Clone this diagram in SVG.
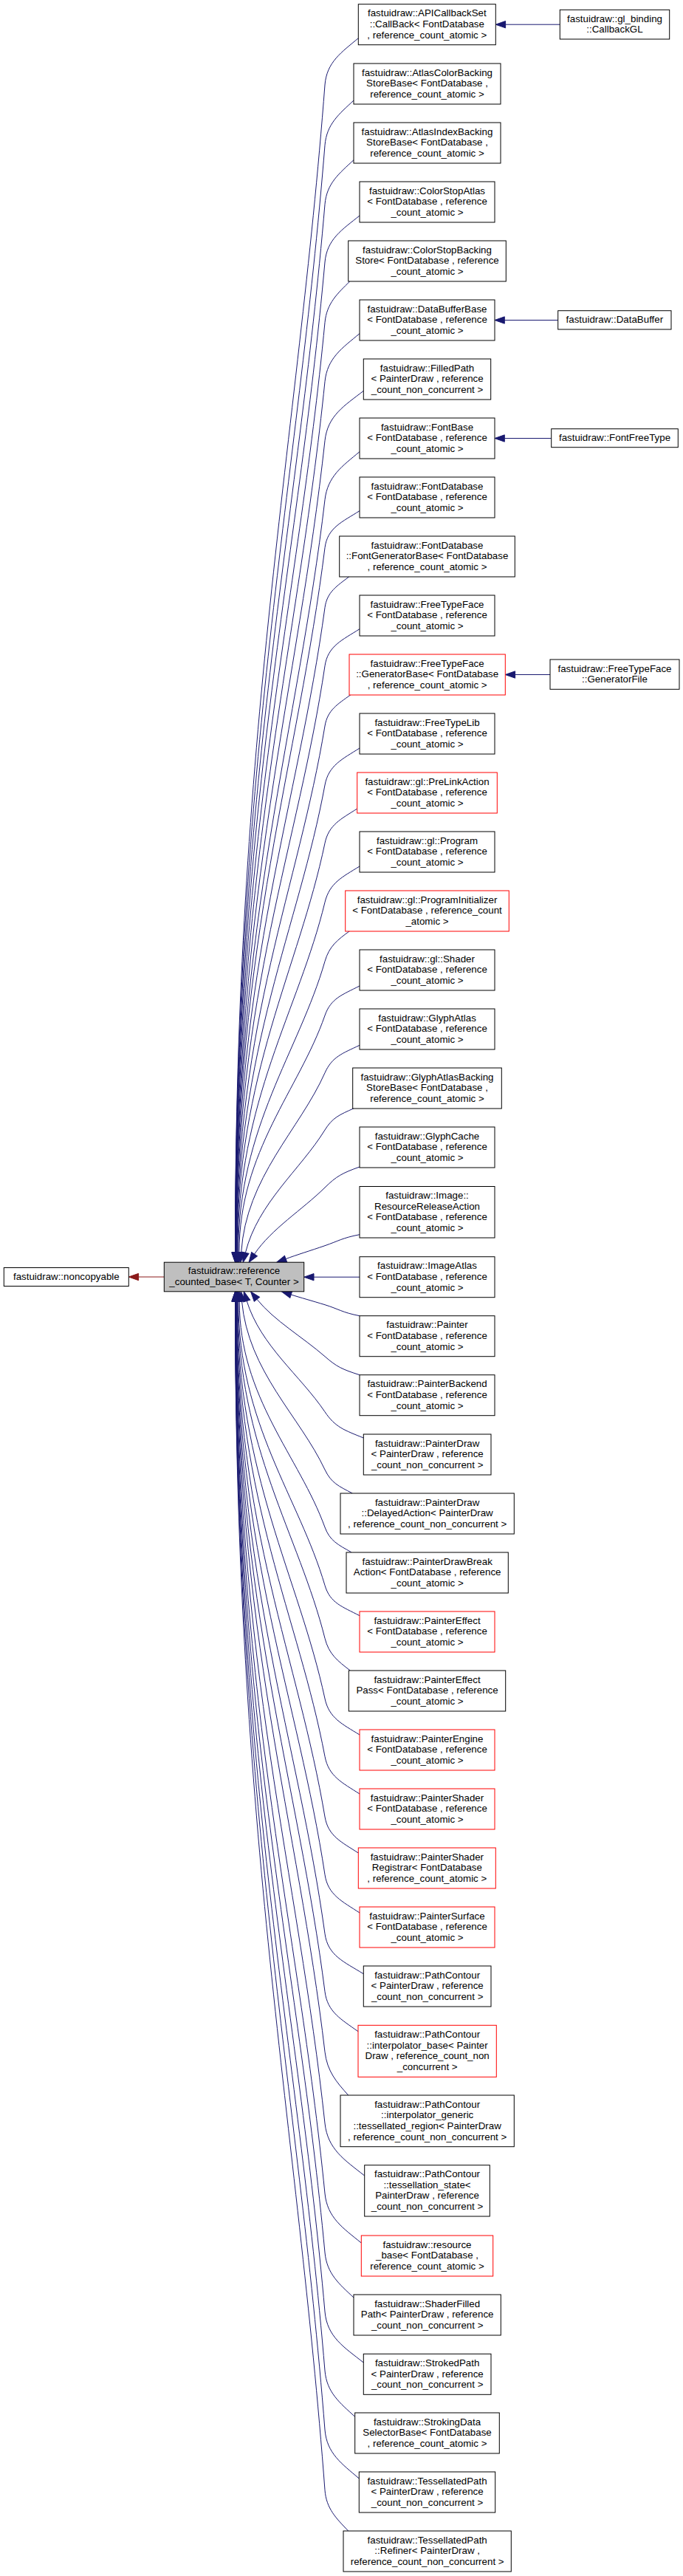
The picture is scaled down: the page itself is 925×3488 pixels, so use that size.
<svg xmlns="http://www.w3.org/2000/svg" width="925" height="3488" viewBox="0 0 925 3488">
<style>
text{font-family:"Liberation Sans",Arial,Helvetica,sans-serif;font-size:13.33px;text-anchor:middle;fill:#000}
.n rect{fill:#fff;stroke:#000;stroke-width:1}
.r rect{stroke:#f00}
.c rect{fill:#bfbfbf}
.e path{fill:none;stroke:#191970;stroke-width:1;marker-start:url(#ah)}
.e path.p{stroke:#8b1a1a;marker-start:url(#ahr)}
</style>
<defs>
<marker id="ah" markerUnits="userSpaceOnUse" viewBox="0 0 14 10" refX="0" refY="5" markerWidth="14" markerHeight="10" orient="auto-start-reverse" overflow="visible"><path d="M0,0.33 L13.3,5 L0,9.67 Z" fill="#191970" stroke="#191970" stroke-width="1"/></marker>
<marker id="ahr" markerUnits="userSpaceOnUse" viewBox="0 0 14 10" refX="0" refY="5" markerWidth="14" markerHeight="10" orient="auto-start-reverse" overflow="visible"><path d="M0,0.33 L13.3,5 L0,9.67 Z" fill="#8b1a1a" stroke="#8b1a1a" stroke-width="1"/></marker>
</defs>
<rect width="925" height="3488" fill="#fff"/>
<g id="edges" class="e">
<path class="p" d="M187.6,1729 L222.3,1729"/>
<path d="M684.6,33.2 L758.3,33.2"/>
<path d="M683.3,433.5 L755.7,433.5"/>
<path d="M683.3,593.5 L746.7,593.5"/>
<path d="M697.6,913.5 L745,913.5"/>
<path d="M318.5,1695.9 C318.5,991.8 403.5,593.2 440,115 C442.4,84 462.7,70.7 485.3,51.7"/>
<path d="M318.6,1695.9 C318.6,1028.6 403.6,650.4 440,196.7 C442.3,167.9 459.5,154.2 479,136"/>
<path d="M318.7,1695.9 C318.7,1064.6 403.6,706.4 440,276.7 C442.4,248.2 459.5,234.7 479,216.7"/>
<path d="M318.8,1695.9 C318.8,1099.8 403.6,761.3 440,355 C442.8,323.7 463.5,310.9 487,292"/>
<path d="M318.9,1695.9 C318.9,1136.6 403.6,818.5 440,436.7 C442.5,410.6 457,397.5 474,380.7"/>
<path d="M319,1695.9 C319,1172.6 403.7,874.5 440,516.7 C443.2,484.8 463.5,471.2 487,451.7"/>
<path d="M319.2,1695.9 C319.2,1208.6 403.7,930.5 440,596.7 C443.7,562.8 466.2,549.5 492.3,529.3"/>
<path d="M319.3,1695.9 C319.3,1244.6 403.8,986.5 440,676.7 C443.7,644.8 463.5,631.2 487,611.7"/>
<path d="M319.5,1695.9 C319.5,1273.8 403.8,1032 440,741.7 C443.4,714.5 463.5,706.7 487,691.7"/>
<path d="M319.7,1695.9 C319.7,1310.3 403.9,1088.7 440,822.7 C442.9,801.5 456.5,793.3 473,780.7"/>
<path d="M319.9,1695.9 C319.9,1345.8 404,1143.9 440,901.7 C444,874.6 463.5,866.7 487,851.7"/>
<path d="M320.3,1695.9 C320.3,1382.4 404.1,1200.9 440,983 C443.6,961.3 457.5,953.4 475,940.7"/>
<path d="M320.7,1695.9 C320.7,1418.4 404.2,1256.8 440,1063 C445,1036.1 463.5,1028 487,1013"/>
<path d="M321.1,1695.9 C321.1,1453.8 404.3,1311.9 440,1141.7 C445.2,1116.6 461.9,1109 483.7,1095"/>
<path d="M321.8,1695.9 C321.8,1489.8 404.5,1368 440,1221.7 C446.4,1195.4 463.5,1187.6 487,1173"/>
<path d="M322.7,1695.9 C322.7,1525.8 404.8,1423.9 440,1301.7 C445.9,1281.1 457,1272.7 474,1260.3"/>
<path d="M323.9,1695.9 C323.9,1558.8 405.2,1475.2 440,1375 C448.1,1351.7 463.5,1347 487,1335"/>
<path d="M326.7,1695.9 C333.3,1593.8 405.8,1529.6 440,1452.7 C449.8,1430.8 463.5,1426.5 487,1415.3"/>
<path d="M332.4,1696.3 C349.3,1628.6 406.8,1583.8 440,1530 C450.3,1513.3 459.7,1509.5 479.3,1500.7"/>
<path d="M344.5,1698.2 C367.8,1663.7 409.1,1638.4 440,1608 C455.6,1592.6 463.5,1588.4 487,1580"/>
<path d="M387.1,1704.6 C401.8,1699.1 420.3,1693.5 440,1686.7 C458.6,1680.3 463.5,1676.2 487,1671.7"/>
<path d="M425,1729.2 L487,1729.2"/>
<path d="M394.2,1753 C406.3,1756.9 422.5,1761.3 440,1766.7 C458.8,1772.5 463.5,1777.2 487,1781.7"/>
<path d="M347.9,1759.2 C371.5,1788.4 409.9,1810.4 440,1836.7 C456,1850.7 463.5,1854.2 487,1861.7"/>
<path d="M334.2,1761.5 C352.9,1822.1 407.1,1862.8 440,1911.7 C454.1,1932.6 466.2,1936.4 492.3,1947"/>
<path d="M327.5,1762 C336.3,1857.3 405.9,1917.6 440,1990 C448.4,2007.8 458.7,2012.4 477.3,2022"/>
<path d="M324.2,1762.1 C324.2,1892.4 405.2,1972.2 440,2068 C446.7,2086.4 457.9,2091.6 475.7,2101.7"/>
<path d="M322.8,1762.1 C322.8,1927.9 404.9,2027.4 440,2146.7 C447.1,2170.7 463.5,2175.4 487,2187.7"/>
<path d="M322,1762.1 C322,1960.1 404.6,2077.5 440,2218.3 C445.4,2239.8 457.2,2248.9 474.3,2262"/>
<path d="M321.3,1762.1 C321.3,1996.8 404.4,2134.7 440,2300 C445.7,2326.6 463.5,2334.3 487,2349"/>
<path d="M320.8,1762.1 C320.8,2032.1 404.2,2189.5 440,2378.3 C445.1,2405.4 463.5,2413.8 487,2429"/>
<path d="M320.3,1762.1 C320.3,2068.8 404.1,2246.6 440,2460 C444.4,2486.3 462.7,2494.3 485.3,2509"/>
<path d="M320,1762.1 C320,2104.1 404,2301.4 440,2538.3 C444.2,2566 463.5,2574.5 487,2590"/>
<path d="M319.7,1762.1 C319.7,2140.1 403.9,2357.5 440,2618.3 C444.1,2648.2 466.2,2656.4 492.3,2672.7"/>
<path d="M319.5,1762.1 C319.5,2175.4 403.8,2412.3 440,2696.7 C443.5,2724.6 462.5,2734.5 485,2750.7"/>
<path d="M319.3,1762.1 C319.3,2212.1 403.8,2469.4 440,2778.3 C443.1,2804.8 455.9,2819.4 471.7,2837"/>
<path d="M319.1,1762.1 C319.1,2255.6 403.7,2537.1 440,2875 C443.8,2910.4 466.9,2924.7 493.7,2946"/>
<path d="M319,1762.1 C319,2298.3 403.7,2603.6 440,2970 C443.3,3003.1 464.7,3016.9 489.3,3037"/>
<path d="M318.8,1762.1 C318.8,2334.3 403.7,2659.7 440,3050 C442.7,3078.9 459.5,3092.7 479,3111"/>
<path d="M318.7,1762.1 C318.7,2370.3 403.6,2715.6 440,3130 C443,3164.5 466.2,3178.3 492.3,3199"/>
<path d="M318.6,1762.1 C318.6,2406.3 403.6,2771.6 440,3210 C442.5,3239.7 460.4,3253.6 480.7,3272.3"/>
<path d="M318.6,1762.1 C318.6,2442.3 403.5,2827.6 440,3290 C442.5,3322.1 463.2,3336.2 486.3,3356"/>
<path d="M318.5,1762.1 C318.5,2479.1 403.5,2884.9 440,3371.7 C441.9,3397.1 455.9,3410.4 471.7,3427"/>
</g>
<g id="noncopyable" class="n" transform="translate(89.8,1729)"><rect x="-84.5" y="-12.5" width="169" height="25"/><text y="4">fastuidraw::noncopyable</text></g>
<g id="reference_counted_base" class="n c" transform="translate(317,1729)"><rect x="-94.7" y="-19.8" width="189.4" height="39.6"/><text y="-3.6">fastuidraw::reference</text><text y="11">_counted_base&lt; T, Counter &gt;</text></g>
<g id="APICallbackSet_CallBack" class="n" transform="translate(578.3,33.2)"><rect x="-93" y="-27.5" width="186" height="55"/><text y="-11">fastuidraw::APICallbackSet</text><text y="3.7">::CallBack&lt; FontDatabase</text><text y="18.4">, reference_count_atomic &gt;</text></g>
<g id="gl_binding_CallbackGL" class="n" transform="translate(832.5,33.15)"><rect x="-74.2" y="-19.85" width="148.4" height="39.7"/><text y="-3.6">fastuidraw::gl_binding</text><text y="11">::CallbackGL</text></g>
<g id="AtlasColorBackingStoreBase" class="n" transform="translate(578.5,113.5)"><rect x="-99.5" y="-27.5" width="199" height="55"/><text y="-11">fastuidraw::AtlasColorBacking</text><text y="3.7">StoreBase&lt; FontDatabase ,</text><text y="18.4">reference_count_atomic &gt;</text></g>
<g id="AtlasIndexBackingStoreBase" class="n" transform="translate(578.5,193.5)"><rect x="-99.5" y="-27.5" width="199" height="55"/><text y="-11">fastuidraw::AtlasIndexBacking</text><text y="3.7">StoreBase&lt; FontDatabase ,</text><text y="18.4">reference_count_atomic &gt;</text></g>
<g id="ColorStopAtlas" class="n" transform="translate(578.5,273.5)"><rect x="-91.5" y="-27.5" width="183" height="55"/><text y="-11">fastuidraw::ColorStopAtlas</text><text y="3.7">&lt; FontDatabase , reference</text><text y="18.4">_count_atomic &gt;</text></g>
<g id="ColorStopBackingStore" class="n" transform="translate(578.5,353.5)"><rect x="-106.8" y="-27.5" width="213.6" height="55"/><text y="-11">fastuidraw::ColorStopBacking</text><text y="3.7">Store&lt; FontDatabase , reference</text><text y="18.4">_count_atomic &gt;</text></g>
<g id="DataBufferBase" class="n" transform="translate(578.5,433.5)"><rect x="-91.5" y="-27.5" width="183" height="55"/><text y="-11">fastuidraw::DataBufferBase</text><text y="3.7">&lt; FontDatabase , reference</text><text y="18.4">_count_atomic &gt;</text></g>
<g id="DataBuffer" class="n" transform="translate(832.35,433.35)"><rect x="-76.65" y="-12.65" width="153.3" height="25.3"/><text y="4">fastuidraw::DataBuffer</text></g>
<g id="FilledPath" class="n" transform="translate(578.5,513.5)"><rect x="-86.2" y="-27.5" width="172.4" height="55"/><text y="-11">fastuidraw::FilledPath</text><text y="3.7">&lt; PainterDraw , reference</text><text y="18.4">_count_non_concurrent &gt;</text></g>
<g id="FontBase" class="n" transform="translate(578.5,593.5)"><rect x="-91.5" y="-27.5" width="183" height="55"/><text y="-11">fastuidraw::FontBase</text><text y="3.7">&lt; FontDatabase , reference</text><text y="18.4">_count_atomic &gt;</text></g>
<g id="FontFreeType" class="n" transform="translate(832.5,593.2)"><rect x="-85.8" y="-12.5" width="171.6" height="25"/><text y="4">fastuidraw::FontFreeType</text></g>
<g id="FontDatabase" class="n" transform="translate(578.5,673.5)"><rect x="-91.5" y="-27.5" width="183" height="55"/><text y="-11">fastuidraw::FontDatabase</text><text y="3.7">&lt; FontDatabase , reference</text><text y="18.4">_count_atomic &gt;</text></g>
<g id="FontDatabase_FontGeneratorBase" class="n" transform="translate(578.5,753.5)"><rect x="-118.8" y="-27.5" width="237.6" height="55"/><text y="-11">fastuidraw::FontDatabase</text><text y="3.7">::FontGeneratorBase&lt; FontDatabase</text><text y="18.4">, reference_count_atomic &gt;</text></g>
<g id="FreeTypeFace" class="n" transform="translate(578.5,833.5)"><rect x="-91.5" y="-27.5" width="183" height="55"/><text y="-11">fastuidraw::FreeTypeFace</text><text y="3.7">&lt; FontDatabase , reference</text><text y="18.4">_count_atomic &gt;</text></g>
<g id="FreeTypeFace_GeneratorBase" class="n r" transform="translate(578.65,913.5)"><rect x="-105.65" y="-27.5" width="211.3" height="55"/><text y="-11">fastuidraw::FreeTypeFace</text><text y="3.7">::GeneratorBase&lt; FontDatabase</text><text y="18.4">, reference_count_atomic &gt;</text></g>
<g id="FreeTypeFace_GeneratorFile" class="n" transform="translate(832.5,913.15)"><rect x="-87.5" y="-20.15" width="175" height="40.3"/><text y="-3.6">fastuidraw::FreeTypeFace</text><text y="11">::GeneratorFile</text></g>
<g id="FreeTypeLib" class="n" transform="translate(578.5,993.5)"><rect x="-91.5" y="-27.5" width="183" height="55"/><text y="-11">fastuidraw::FreeTypeLib</text><text y="3.7">&lt; FontDatabase , reference</text><text y="18.4">_count_atomic &gt;</text></g>
<g id="gl_PreLinkAction" class="n r" transform="translate(578.5,1073.5)"><rect x="-94.8" y="-27.5" width="189.6" height="55"/><text y="-11">fastuidraw::gl::PreLinkAction</text><text y="3.7">&lt; FontDatabase , reference</text><text y="18.4">_count_atomic &gt;</text></g>
<g id="gl_Program" class="n" transform="translate(578.5,1153.5)"><rect x="-91.5" y="-27.5" width="183" height="55"/><text y="-11">fastuidraw::gl::Program</text><text y="3.7">&lt; FontDatabase , reference</text><text y="18.4">_count_atomic &gt;</text></g>
<g id="gl_ProgramInitializer" class="n r" transform="translate(578.5,1233.5)"><rect x="-110.8" y="-27.5" width="221.6" height="55"/><text y="-11">fastuidraw::gl::ProgramInitializer</text><text y="3.7">&lt; FontDatabase , reference_count</text><text y="18.4">_atomic &gt;</text></g>
<g id="gl_Shader" class="n" transform="translate(578.5,1313.5)"><rect x="-91.5" y="-27.5" width="183" height="55"/><text y="-11">fastuidraw::gl::Shader</text><text y="3.7">&lt; FontDatabase , reference</text><text y="18.4">_count_atomic &gt;</text></g>
<g id="GlyphAtlas" class="n" transform="translate(578.5,1393.5)"><rect x="-91.5" y="-27.5" width="183" height="55"/><text y="-11">fastuidraw::GlyphAtlas</text><text y="3.7">&lt; FontDatabase , reference</text><text y="18.4">_count_atomic &gt;</text></g>
<g id="GlyphAtlasBackingStoreBase" class="n" transform="translate(578.5,1473.5)"><rect x="-100.8" y="-27.5" width="201.6" height="55"/><text y="-11">fastuidraw::GlyphAtlasBacking</text><text y="3.7">StoreBase&lt; FontDatabase ,</text><text y="18.4">reference_count_atomic &gt;</text></g>
<g id="GlyphCache" class="n" transform="translate(578.5,1553.5)"><rect x="-91.5" y="-27.5" width="183" height="55"/><text y="-11">fastuidraw::GlyphCache</text><text y="3.7">&lt; FontDatabase , reference</text><text y="18.4">_count_atomic &gt;</text></g>
<g id="Image_ResourceReleaseAction" class="n" transform="translate(578.5,1641.25)"><rect x="-91.5" y="-34.75" width="183" height="69.5"/><text y="-18.3">fastuidraw::Image::</text><text y="-3.6">ResourceReleaseAction</text><text y="11">&lt; FontDatabase , reference</text><text y="25.7">_count_atomic &gt;</text></g>
<g id="ImageAtlas" class="n" transform="translate(578.5,1729.2)"><rect x="-91.5" y="-27.5" width="183" height="55"/><text y="-11">fastuidraw::ImageAtlas</text><text y="3.7">&lt; FontDatabase , reference</text><text y="18.4">_count_atomic &gt;</text></g>
<g id="Painter" class="n" transform="translate(578.5,1809.2)"><rect x="-91.5" y="-27.5" width="183" height="55"/><text y="-11">fastuidraw::Painter</text><text y="3.7">&lt; FontDatabase , reference</text><text y="18.4">_count_atomic &gt;</text></g>
<g id="PainterBackend" class="n" transform="translate(578.5,1889.2)"><rect x="-91.5" y="-27.5" width="183" height="55"/><text y="-11">fastuidraw::PainterBackend</text><text y="3.7">&lt; FontDatabase , reference</text><text y="18.4">_count_atomic &gt;</text></g>
<g id="PainterDraw" class="n" transform="translate(578.65,1969.5)"><rect x="-86.35" y="-27.5" width="172.7" height="55"/><text y="-11">fastuidraw::PainterDraw</text><text y="3.7">&lt; PainterDraw , reference</text><text y="18.4">_count_non_concurrent &gt;</text></g>
<g id="PainterDraw_DelayedAction" class="n" transform="translate(578.65,2049.5)"><rect x="-117.65" y="-27.5" width="235.3" height="55"/><text y="-11">fastuidraw::PainterDraw</text><text y="3.7">::DelayedAction&lt; PainterDraw</text><text y="18.4">, reference_count_non_concurrent &gt;</text></g>
<g id="PainterDrawBreakAction" class="n" transform="translate(578.65,2129.5)"><rect x="-109.65" y="-27.5" width="219.3" height="55"/><text y="-11">fastuidraw::PainterDrawBreak</text><text y="3.7">Action&lt; FontDatabase , reference</text><text y="18.4">_count_atomic &gt;</text></g>
<g id="PainterEffect" class="n r" transform="translate(578.5,2209.5)"><rect x="-91.5" y="-27.5" width="183" height="55"/><text y="-11">fastuidraw::PainterEffect</text><text y="3.7">&lt; FontDatabase , reference</text><text y="18.4">_count_atomic &gt;</text></g>
<g id="PainterEffectPass" class="n" transform="translate(578.5,2289.5)"><rect x="-106.2" y="-27.5" width="212.4" height="55"/><text y="-11">fastuidraw::PainterEffect</text><text y="3.7">Pass&lt; FontDatabase , reference</text><text y="18.4">_count_atomic &gt;</text></g>
<g id="PainterEngine" class="n r" transform="translate(578.5,2369.5)"><rect x="-91.5" y="-27.5" width="183" height="55"/><text y="-11">fastuidraw::PainterEngine</text><text y="3.7">&lt; FontDatabase , reference</text><text y="18.4">_count_atomic &gt;</text></g>
<g id="PainterShader" class="n r" transform="translate(578.5,2449.5)"><rect x="-91.5" y="-27.5" width="183" height="55"/><text y="-11">fastuidraw::PainterShader</text><text y="3.7">&lt; FontDatabase , reference</text><text y="18.4">_count_atomic &gt;</text></g>
<g id="PainterShaderRegistrar" class="n r" transform="translate(578.3,2529.5)"><rect x="-93" y="-27.5" width="186" height="55"/><text y="-11">fastuidraw::PainterShader</text><text y="3.7">Registrar&lt; FontDatabase</text><text y="18.4">, reference_count_atomic &gt;</text></g>
<g id="PainterSurface" class="n r" transform="translate(578.5,2609.5)"><rect x="-91.5" y="-27.5" width="183" height="55"/><text y="-11">fastuidraw::PainterSurface</text><text y="3.7">&lt; FontDatabase , reference</text><text y="18.4">_count_atomic &gt;</text></g>
<g id="PathContour" class="n" transform="translate(578.65,2689.5)"><rect x="-86.35" y="-27.5" width="172.7" height="55"/><text y="-11">fastuidraw::PathContour</text><text y="3.7">&lt; PainterDraw , reference</text><text y="18.4">_count_non_concurrent &gt;</text></g>
<g id="PathContour_interpolator_base" class="n r" transform="translate(578.65,2777.3)"><rect x="-93.65" y="-35" width="187.3" height="70"/><text y="-18.3">fastuidraw::PathContour</text><text y="-3.6">::interpolator_base&lt; Painter</text><text y="11">Draw , reference_count_non</text><text y="25.7">_concurrent &gt;</text></g>
<g id="PathContour_interpolator_generic_tessellated_region" class="n" transform="translate(578.65,2871.85)"><rect x="-117.65" y="-34.85" width="235.3" height="69.7"/><text y="-18.3">fastuidraw::PathContour</text><text y="-3.6">::interpolator_generic</text><text y="11">::tessellated_region&lt; PainterDraw</text><text y="25.7">, reference_count_non_concurrent &gt;</text></g>
<g id="PathContour_tessellation_state" class="n" transform="translate(578.5,2966.35)"><rect x="-84.8" y="-34.65" width="169.6" height="69.3"/><text y="-18.3">fastuidraw::PathContour</text><text y="-3.6">::tessellation_state&lt;</text><text y="11">PainterDraw , reference</text><text y="25.7">_count_non_concurrent &gt;</text></g>
<g id="resource_base" class="n r" transform="translate(578.5,3054.5)"><rect x="-89.2" y="-27.5" width="178.4" height="55"/><text y="-11">fastuidraw::resource</text><text y="3.7">_base&lt; FontDatabase ,</text><text y="18.4">reference_count_atomic &gt;</text></g>
<g id="ShaderFilledPath" class="n" transform="translate(578.65,3134.5)"><rect x="-99.65" y="-27.5" width="199.3" height="55"/><text y="-11">fastuidraw::ShaderFilled</text><text y="3.7">Path&lt; PainterDraw , reference</text><text y="18.4">_count_non_concurrent &gt;</text></g>
<g id="StrokedPath" class="n" transform="translate(578.65,3214.8)"><rect x="-86.35" y="-27.5" width="172.7" height="55"/><text y="-11">fastuidraw::StrokedPath</text><text y="3.7">&lt; PainterDraw , reference</text><text y="18.4">_count_non_concurrent &gt;</text></g>
<g id="StrokingDataSelectorBase" class="n" transform="translate(578.5,3294.5)"><rect x="-97.8" y="-27.5" width="195.6" height="55"/><text y="-11">fastuidraw::StrokingData</text><text y="3.7">SelectorBase&lt; FontDatabase</text><text y="18.4">, reference_count_atomic &gt;</text></g>
<g id="TessellatedPath" class="n" transform="translate(578.5,3374.5)"><rect x="-92.2" y="-27.5" width="184.4" height="55"/><text y="-11">fastuidraw::TessellatedPath</text><text y="3.7">&lt; PainterDraw , reference</text><text y="18.4">_count_non_concurrent &gt;</text></g>
<g id="TessellatedPath_Refiner" class="n" transform="translate(578.65,3454.5)"><rect x="-113.65" y="-27.5" width="227.3" height="55"/><text y="-11">fastuidraw::TessellatedPath</text><text y="3.7">::Refiner&lt; PainterDraw ,</text><text y="18.4">reference_count_non_concurrent &gt;</text></g>
</svg>
